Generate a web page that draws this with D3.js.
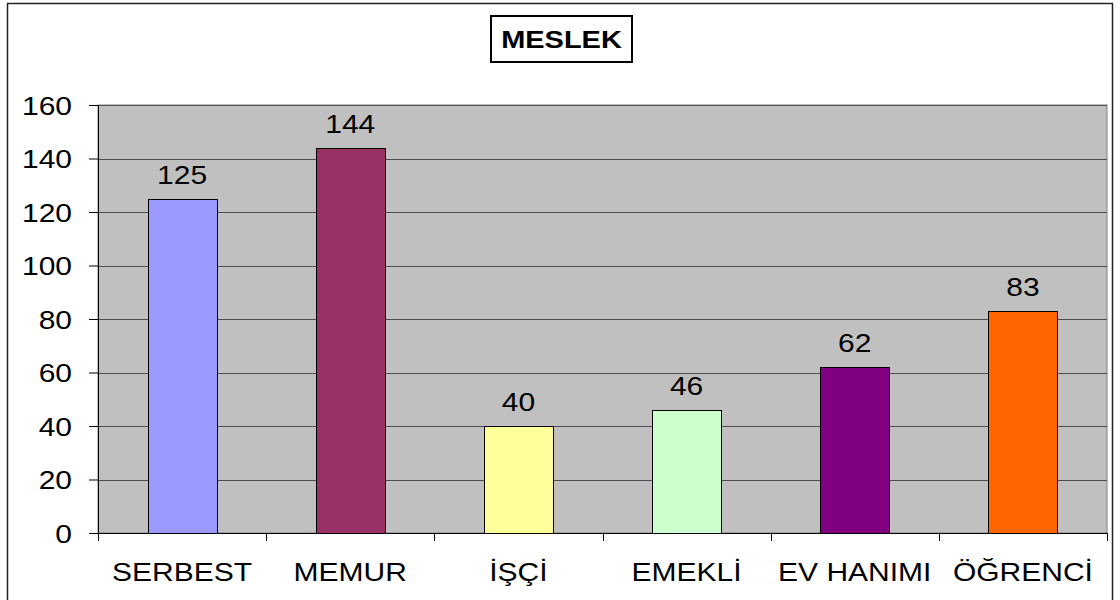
<!DOCTYPE html>
<html>
<head>
<meta charset="utf-8">
<script src="https://cdn.jsdelivr.net/npm/d3@7"></script>
<style>
  body { margin: 0; background: #fff; }
  svg { display: block; font-family: Arial, "Liberation Sans", sans-serif; }
</style>
</head>
<body>
<div id="vis"></div>
<script>
// chart data
const CATEGORIES = ["SERBEST", "MEMUR", "İŞÇİ", "EMEKLİ", "EV HANIMI", "ÖĞRENCİ"];
const VALUES = [125, 144, 40, 46, 62, 83];
const BAR_COLORS = ["#9999FF", "#993366", "#FFFF99", "#CCFFCC", "#800080", "#FF6600"];
const Y_TICKS = [0, 20, 40, 60, 80, 100, 120, 140, 160];
const TITLE = "MESLEK";

const FRAME_WIDTH = 1120;
const FRAME_HEIGHT = 600;
const MARGINS = {left: 98, right: 13, top: 105, bottom: 67};
const VIS_WIDTH = FRAME_WIDTH - MARGINS.left - MARGINS.right;
const VIS_HEIGHT = FRAME_HEIGHT - MARGINS.top - MARGINS.bottom;
const FONT = "Arial, 'Liberation Sans', sans-serif";
const SX = 1.2; // the original text is a bit stretched sideways

const svg = d3.select("#vis")
  .append("svg")
    .attr("width", FRAME_WIDTH)
    .attr("height", FRAME_HEIGHT);

// outer border (bottom edge runs off the picture)
svg.append("rect")
  .attr("x", 7.5).attr("y", 3.5)
  .attr("width", 1105).attr("height", 610)
  .attr("fill", "#fff")
  .attr("stroke", "#222")
  .attr("stroke-width", 1.5);

// title box
svg.append("rect")
  .attr("x", 491).attr("y", 16)
  .attr("width", 141).attr("height", 46)
  .attr("fill", "#fff")
  .attr("stroke", "#000")
  .attr("stroke-width", 2);
svg.append("text")
  .attr("transform", "translate(561.5,48) scale(1.26,1)")
  .attr("text-anchor", "middle")
  .attr("font-size", "23px")
  .attr("font-weight", "bold")
  .text(TITLE);

const X_SCALE = d3.scaleBand()
  .domain(CATEGORIES)
  .range([0, VIS_WIDTH])
  .paddingInner(0.59)
  .paddingOuter(0.295);

const X_TICKS = d3.scaleBand().domain(CATEGORIES).range([0, VIS_WIDTH]);

const Y_SCALE = d3.scaleLinear()
  .domain([0, 160])
  .range([VIS_HEIGHT, 0]);

const g = svg.append("g")
  .attr("transform", `translate(${MARGINS.left},${MARGINS.top})`);

// plot area
g.append("rect")
  .attr("width", VIS_WIDTH).attr("height", VIS_HEIGHT)
  .attr("fill", "#C0C0C0")
  .attr("stroke", "#808080")
  .attr("stroke-width", 1);

// gridlines
g.selectAll(".grid")
  .data(Y_TICKS.filter(d => d > 0))
  .enter().append("line")
    .attr("x1", 0).attr("x2", VIS_WIDTH)
    .attr("y1", d => Math.round(Y_SCALE(d)) + 0.5)
    .attr("y2", d => Math.round(Y_SCALE(d)) + 0.5)
    .attr("stroke", "#4d4d4d")
    .attr("stroke-width", 1);

// bars
g.selectAll(".bar")
  .data(VALUES)
  .enter().append("rect")
    .attr("x", (d, i) => Math.round(X_SCALE(CATEGORIES[i])) + 0.5)
    .attr("y", d => Math.round(Y_SCALE(d)) + 0.5)
    .attr("width", Math.round(X_SCALE.bandwidth()))
    .attr("height", d => VIS_HEIGHT - Math.round(Y_SCALE(d)))
    .attr("fill", (d, i) => BAR_COLORS[i])
    .attr("stroke", "#000")
    .attr("stroke-width", 1);

// value labels
g.selectAll(".val")
  .data(VALUES)
  .enter().append("text")
    .attr("transform", (d, i) => `translate(${X_SCALE(CATEGORIES[i]) + X_SCALE.bandwidth() / 2},${Y_SCALE(d) - 15}) scale(${SX},1)`)
    .attr("text-anchor", "middle")
    .attr("font-size", "25px")
    .attr("fill", "#000")
    .text(d => d);

// y axis
const yAxis = g.append("g")
  .call(d3.axisLeft(Y_SCALE).tickValues(Y_TICKS).tickSize(9));
yAxis.select(".domain").attr("stroke", "#000");
yAxis.selectAll("line").attr("stroke", "#000");
yAxis.selectAll("text")
  .attr("font-size", "25px").attr("fill", "#000").attr("font-family", FONT)
  .attr("x", -26 / SX)
  .attr("dy", "0.36em")
  .attr("transform", `scale(${SX},1)`);

// x axis
const xAxis = g.append("g")
  .attr("transform", `translate(0,${VIS_HEIGHT})`)
  .call(d3.axisBottom(X_TICKS).tickSize(0));
xAxis.select(".domain").attr("stroke", "#000");
xAxis.selectAll("text")
  .attr("font-size", "25px").attr("fill", "#000").attr("font-family", FONT)
  .attr("y", 48).attr("dy", 0)
  .attr("transform", `scale(${SX},1)`);

// x tick marks at category boundaries
g.selectAll(".xtick")
  .data(d3.range(CATEGORIES.length + 1))
  .enter().append("line")
    .attr("x1", i => Math.round(i * X_TICKS.bandwidth()) + 0.5)
    .attr("x2", i => Math.round(i * X_TICKS.bandwidth()) + 0.5)
    .attr("y1", VIS_HEIGHT)
    .attr("y2", VIS_HEIGHT + 8)
    .attr("stroke", "#000");
</script>
</body>
</html>
